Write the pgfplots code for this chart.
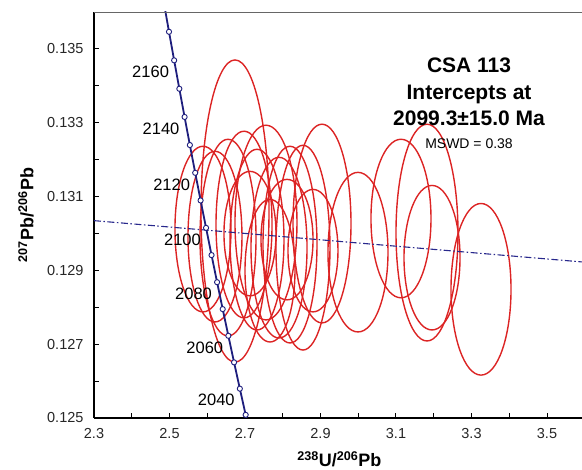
\documentclass[border=0pt]{standalone}
\usepackage{pgfplots}
\pgfplotsset{compat=1.18}
\usepackage{pgfplotstable}
\usepackage{fontspec}
\setmainfont{Liberation Sans}
\definecolor{ellred}{RGB}{220,36,36}
\definecolor{navy}{RGB}{30,30,125}
\definecolor{discol}{RGB}{40,40,140}

% error ellipses: centre (cx,cy), semi-axes rx, ry
\pgfplotstableread{
cx cy rx ry
2.6735 0.130608 0.0901 0.004093
2.5887 0.130118 0.0742 0.002244
2.6205 0.129914 0.0715 0.002312
2.6550 0.129887 0.0742 0.002665
2.6974 0.130241 0.0742 0.002529
2.7318 0.129833 0.0715 0.002448
2.7556 0.130295 0.0821 0.002638
2.7901 0.129615 0.0742 0.002448
2.8192 0.129697 0.0715 0.002665
2.8536 0.129615 0.0715 0.002774
2.9040 0.130268 0.0768 0.002692
2.8113 0.129833 0.0689 0.001632
2.7132 0.129996 0.0689 0.001686
2.8801 0.129534 0.0662 0.001659
2.9993 0.129493 0.0795 0.002162
3.1132 0.130404 0.0795 0.002148
3.1821 0.130023 0.0821 0.002937
3.1954 0.129343 0.0742 0.001958
3.3252 0.128487 0.0795 0.002325
2.7662 0.128990 0.0662 0.001931
}\ellipses

% concordia curve (age in Ma, 238U/206Pb, 207Pb/206Pb)
\pgfplotstableread{
age x y
2020 2.71736 0.124381
2030 2.70177 0.125085
2040 2.68634 0.125794
2050 2.67105 0.126507
2060 2.65591 0.127227
2070 2.64092 0.127950
2080 2.62608 0.128679
2090 2.61138 0.129413
2100 2.59683 0.130151
2110 2.58240 0.130894
2120 2.56811 0.131643
2130 2.55397 0.132395
2140 2.53995 0.133156
2150 2.52607 0.133920
2160 2.51232 0.134690
2170 2.49869 0.135464
2180 2.48520 0.136245
}\concordia

\pgfplotstableread{
age x y
2030 2.70177 0.125085
2040 2.68634 0.125794
2050 2.67105 0.126507
2060 2.65591 0.127227
2070 2.64092 0.127950
2080 2.62608 0.128679
2090 2.61138 0.129413
2100 2.59683 0.130151
2110 2.58240 0.130894
2120 2.56811 0.131643
2130 2.55397 0.132395
2140 2.53995 0.133156
2150 2.52607 0.133920
2160 2.51232 0.134690
2170 2.49869 0.135464
}\markers

\pgfplotstableread{
x y lab
2.68634 0.125794 2040
2.65591 0.127227 2060
2.62608 0.128679 2080
2.59683 0.130151 2100
2.56811 0.131643 2120
2.53995 0.133156 2140
2.51232 0.134690 2160
}\agelabels

\pgfplotstablegetrowsof{\ellipses}
\pgfmathtruncatemacro{\nell}{\pgfplotsretval-1}

\begin{document}
\begin{tikzpicture}
\useasboundingbox (-94pt,-52pt) rectangle (488pt,418pt);
\begin{axis}[
  at={(0pt,0pt)}, anchor=south west,
  scale only axis, width=490.75pt, height=406pt,
  xmin=2.3, xmax=3.6, ymin=0.125, ymax=0.136,
  enlargelimits=false,
  axis lines*=left,
  axis line style={black, line width=1.3pt},
  clip mode=individual,
  tick align=inside,
  major tick length=5pt, minor tick length=5pt,
  every tick/.style={black, line width=1pt},
  xtick={2.3,2.5,2.7,2.9,3.1,3.3,3.5},
  minor xtick={2.4,2.6,2.8,3.0,3.2,3.4},
  ytick={0.125,0.127,0.129,0.131,0.133,0.135},
  minor ytick={0.126,0.128,0.130,0.132,0.134},
  /pgf/number format/assume math mode=true,
  xticklabel style={/pgf/number format/fixed, /pgf/number format/precision=1, /pgf/number format/fixed zerofill, yshift=-7pt},
  yticklabel style={/pgf/number format/fixed, /pgf/number format/precision=3, /pgf/number format/fixed zerofill, xshift=-7pt},
  scaled y ticks=false, scaled x ticks=false,
  ticklabel style={font=\fontsize{14.5}{16}\selectfont, text=black!85},
  xlabel={\bfseries\textsuperscript{238}U/\textsuperscript{206}Pb},
  ylabel={\bfseries\textsuperscript{207}Pb/\textsuperscript{206}Pb},
  every axis x label/.style={at={(axis description cs:0.5,0)}, anchor=base, yshift=-48.5pt, font=\fontsize{18}{20}\selectfont},
  every axis y label/.style={at={(axis description cs:-0.1386,0.5)}, rotate=90, anchor=center, font=\fontsize{18}{20}\selectfont},
]
% ellipses
\pgfplotsinvokeforeach{0,...,\nell}{
  \pgfplotstablegetelem{#1}{cx}\of\ellipses \let\ecx\pgfplotsretval
  \pgfplotstablegetelem{#1}{cy}\of\ellipses \let\ecy\pgfplotsretval
  \pgfplotstablegetelem{#1}{rx}\of\ellipses \let\erx\pgfplotsretval
  \pgfplotstablegetelem{#1}{ry}\of\ellipses \let\ery\pgfplotsretval
  \edef\tmp{\noexpand\draw[ellred, line width=1.4pt] (axis cs:\ecx,\ecy) ellipse [x radius=\erx, y radius=\ery];}
  \tmp
}
% discordia
\addplot[discol, line width=1.1pt, dash pattern=on 7pt off 2.5pt on 1.5pt off 2.5pt] coordinates {(2.3,0.130347) (3.6,0.129222)};
% concordia
\addplot[navy, line width=1.8pt, no marks] table[x=x, y=y] {\concordia};
\addplot[only marks, mark=*, mark size=2.6pt, mark options={fill=white, draw=navy, line width=0.9pt}] table[x=x, y=y] {\markers};
\addplot[draw=none, mark=none, nodes near coords, point meta=explicit symbolic,
  nodes near coords style={anchor=north east, inner sep=0pt, xshift=-5pt, yshift=-5.5pt, font=\fontsize{16.5}{18}\selectfont, text=black}]
  table[x=x, y=y, meta=lab] {\agelabels};
% top frame line
\draw[black!60, line width=0.8pt] (rel axis cs:0,1) -- (rel axis cs:1,1);
% annotation
\node[anchor=base, font=\fontsize{21}{24}\bfseries] at (rel axis cs:0.7642,0.8514) {CSA 113};
\node[anchor=base, font=\fontsize{21}{24}\bfseries] at (rel axis cs:0.7642,0.7856) {Intercepts at};
\node[anchor=base, font=\fontsize{21}{24}\bfseries] at (rel axis cs:0.7642,0.7207) {2099.3±15.0 Ma};
\node[anchor=base, font=\fontsize{14}{16}\selectfont] at (rel axis cs:0.7642,0.6640) {MSWD = 0.38};
\end{axis}
\end{tikzpicture}
\end{document}
